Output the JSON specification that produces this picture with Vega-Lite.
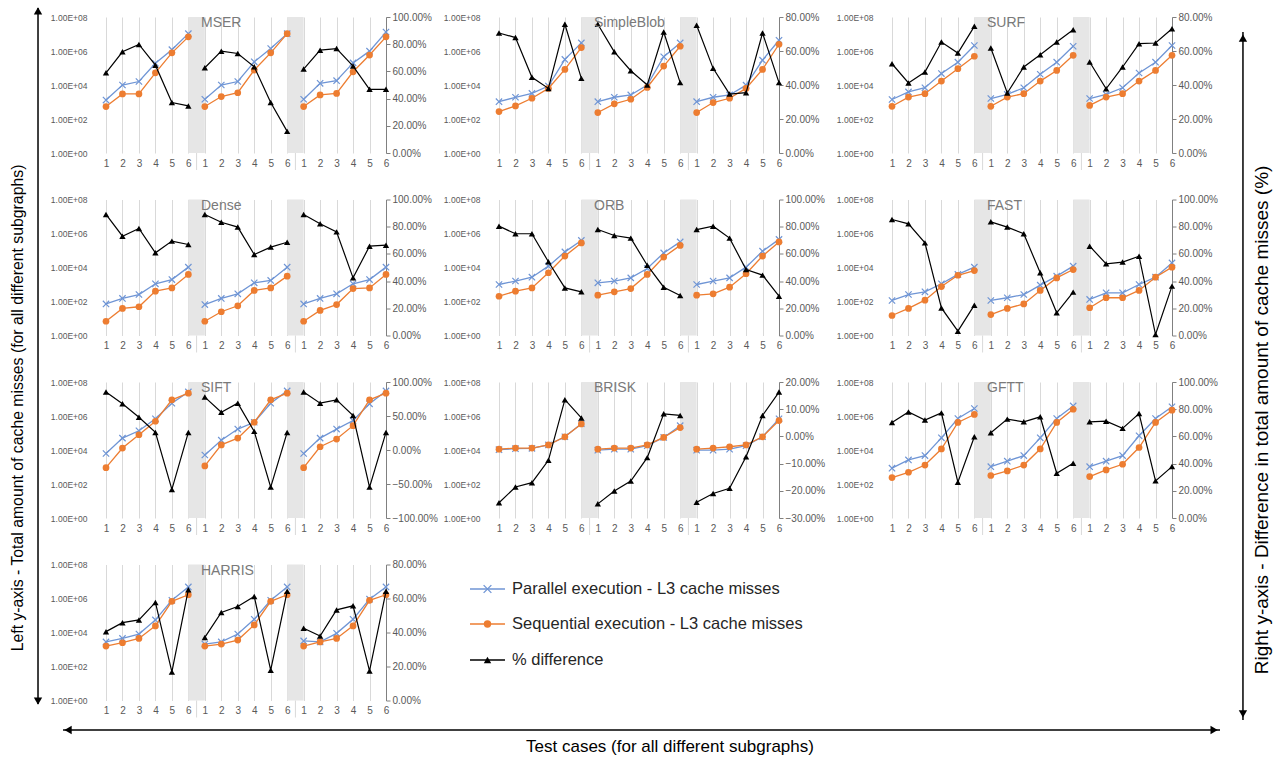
{
"$schema":"https://vega.github.io/schema/vega-lite/v6.json",
"background":"white",
"padding":0,
"config":{"view":{"stroke":null},"font":"Liberation Sans",
 "title":{"anchor":"start","frame":"group","dx":95,"dy":22,"fontSize":14,"font":"Liberation Sans","fontWeight":"normal","color":"#7a7a7a","offset":0},
 "axisBottom":{"grid":true,"gridColor":"#d9d9d9","domain":false,"ticks":false,"labelPadding":5,"labelFontSize":10,"labelColor":"#595959","labelFlush":false,"labelOverlap":false},
 "axisLeft":{"grid":true,"gridColor":"#d9d9d9","domain":false,"ticks":false,"labelPadding":19,"labelFontSize":8.5,"labelColor":"#595959","labelFlush":false,"labelOverlap":false},
 "axisRight":{"grid":false,"domain":true,"domainColor":"#808080","ticks":true,"tickColor":"#808080","tickSize":4,"labelPadding":2,"labelFontSize":10,"labelColor":"#595959","labelFlush":false,"labelOverlap":false}
},
"datasets":{
"MSER":[{"x":1,"g":1,"p":1300,"s":540,"d":0.59},{"x":2,"g":1,"p":10000,"s":3000,"d":0.744},{"x":3,"g":1,"p":16000,"s":3000,"d":0.798},{"x":4,"g":1,"p":190000,"s":52000,"d":0.646},{"x":5,"g":1,"p":1200000,"s":780000,"d":0.371},{"x":6,"g":1,"p":10500000,"s":6800000,"d":0.346},{"x":7,"g":2,"p":1450,"s":540,"d":0.627},{"x":8,"g":2,"p":10000,"s":2100,"d":0.749},{"x":9,"g":2,"p":16000,"s":3500,"d":0.732},{"x":10,"g":2,"p":230000,"s":76000,"d":0.634},{"x":11,"g":2,"p":1400000,"s":780000,"d":0.371},{"x":12,"g":2,"p":10500000,"s":10500000,"d":0.159},{"x":13,"g":3,"p":1450,"s":540,"d":0.617},{"x":14,"g":3,"p":12600,"s":2600,"d":0.756},{"x":15,"g":3,"p":18000,"s":3200,"d":0.768},{"x":16,"g":3,"p":200000,"s":60000,"d":0.639},{"x":17,"g":3,"p":980000,"s":580000,"d":0.468},{"x":18,"g":3,"p":13000000,"s":6800000,"d":0.468}],
"SimpleBlob":[{"x":1,"g":1,"p":1050,"s":275,"d":0.706},{"x":2,"g":1,"p":1900,"s":590,"d":0.679},{"x":3,"g":1,"p":3200,"s":1660,"d":0.445},{"x":4,"g":1,"p":8700,"s":6300,"d":0.38},{"x":5,"g":1,"p":320000,"s":83000,"d":0.757},{"x":6,"g":1,"p":3000000,"s":1600000,"d":0.439},{"x":7,"g":2,"p":1050,"s":240,"d":0.757},{"x":8,"g":2,"p":1900,"s":780,"d":0.595},{"x":9,"g":2,"p":2600,"s":1450,"d":0.484},{"x":10,"g":2,"p":9800,"s":7200,"d":0.4},{"x":11,"g":2,"p":460000,"s":130000,"d":0.712},{"x":12,"g":2,"p":3000000,"s":1900000,"d":0.414},{"x":13,"g":3,"p":1050,"s":240,"d":0.751},{"x":14,"g":3,"p":1900,"s":930,"d":0.498},{"x":15,"g":3,"p":2600,"s":1660,"d":0.347},{"x":16,"g":3,"p":9800,"s":6300,"d":0.355},{"x":17,"g":3,"p":290000,"s":83000,"d":0.706},{"x":18,"g":3,"p":4300000,"s":2500000,"d":0.414}],
"SURF":[{"x":1,"g":1,"p":1400,"s":560,"d":0.525},{"x":2,"g":1,"p":3900,"s":1950,"d":0.412},{"x":3,"g":1,"p":6900,"s":3100,"d":0.476},{"x":4,"g":1,"p":47000,"s":17000,"d":0.653},{"x":5,"g":1,"p":220000,"s":91000,"d":0.588},{"x":6,"g":1,"p":2100000,"s":490000,"d":0.745},{"x":7,"g":2,"p":1600,"s":560,"d":0.618},{"x":8,"g":2,"p":2800,"s":1950,"d":0.353},{"x":9,"g":2,"p":6900,"s":3100,"d":0.506},{"x":10,"g":2,"p":43000,"s":17000,"d":0.578},{"x":11,"g":2,"p":220000,"s":72000,"d":0.653},{"x":12,"g":2,"p":1900000,"s":560000,"d":0.725},{"x":13,"g":3,"p":1600,"s":630,"d":0.535},{"x":14,"g":3,"p":2800,"s":1950,"d":0.378},{"x":15,"g":3,"p":6900,"s":3100,"d":0.506},{"x":16,"g":3,"p":51000,"s":17000,"d":0.643},{"x":17,"g":3,"p":220000,"s":72000,"d":0.647},{"x":18,"g":3,"p":2100000,"s":560000,"d":0.731}],
"Dense":[{"x":1,"g":1,"p":72,"s":6.9,"d":0.89},{"x":2,"g":1,"p":151,"s":39,"d":0.73},{"x":3,"g":1,"p":257,"s":49,"d":0.787},{"x":4,"g":1,"p":1100,"s":407,"d":0.608},{"x":5,"g":1,"p":1950,"s":631,"d":0.694},{"x":6,"g":1,"p":10500,"s":3900,"d":0.669},{"x":7,"g":2,"p":66,"s":6.9,"d":0.89},{"x":8,"g":2,"p":151,"s":25,"d":0.833},{"x":9,"g":2,"p":282,"s":56,"d":0.797},{"x":10,"g":2,"p":1260,"s":447,"d":0.596},{"x":11,"g":2,"p":1740,"s":631,"d":0.65},{"x":12,"g":2,"p":10500,"s":3100,"d":0.686},{"x":13,"g":3,"p":72,"s":6.9,"d":0.89},{"x":14,"g":3,"p":151,"s":30,"d":0.821},{"x":15,"g":3,"p":282,"s":66,"d":0.762},{"x":16,"g":3,"p":1100,"s":575,"d":0.424},{"x":17,"g":3,"p":1950,"s":631,"d":0.657},{"x":18,"g":3,"p":10500,"s":3900,"d":0.664}],
"ORB":[{"x":1,"g":1,"p":1000,"s":204,"d":0.804},{"x":2,"g":1,"p":1600,"s":407,"d":0.748},{"x":3,"g":1,"p":2700,"s":631,"d":0.748},{"x":4,"g":1,"p":12000,"s":4900,"d":0.542},{"x":5,"g":1,"p":83000,"s":47000,"d":0.35},{"x":6,"g":1,"p":390000,"s":280000,"d":0.321},{"x":7,"g":2,"p":1260,"s":234,"d":0.779},{"x":8,"g":2,"p":1600,"s":372,"d":0.735},{"x":9,"g":2,"p":2450,"s":575,"d":0.716},{"x":10,"g":2,"p":8700,"s":3900,"d":0.517},{"x":11,"g":2,"p":72000,"s":41000,"d":0.355},{"x":12,"g":2,"p":320000,"s":200000,"d":0.294},{"x":13,"g":3,"p":1000,"s":234,"d":0.779},{"x":14,"g":3,"p":1600,"s":282,"d":0.804},{"x":15,"g":3,"p":2450,"s":692,"d":0.716},{"x":16,"g":3,"p":10500,"s":4300,"d":0.485},{"x":17,"g":3,"p":91000,"s":47000,"d":0.444},{"x":18,"g":3,"p":450000,"s":320000,"d":0.289}],
"FAST":[{"x":1,"g":1,"p":115,"s":15,"d":0.853},{"x":2,"g":1,"p":257,"s":39,"d":0.821},{"x":3,"g":1,"p":372,"s":120,"d":0.681},{"x":4,"g":1,"p":1100,"s":759,"d":0.203},{"x":5,"g":1,"p":3900,"s":3500,"d":0.032},{"x":6,"g":1,"p":10500,"s":6600,"d":0.223},{"x":7,"g":2,"p":115,"s":17,"d":0.836},{"x":8,"g":2,"p":166,"s":39,"d":0.797},{"x":9,"g":2,"p":257,"s":72,"d":0.748},{"x":10,"g":2,"p":912,"s":447,"d":0.461},{"x":11,"g":2,"p":3100,"s":2450,"d":0.167},{"x":12,"g":2,"p":12000,"s":7600,"d":0.319},{"x":13,"g":3,"p":132,"s":43,"d":0.657},{"x":14,"g":3,"p":324,"s":166,"d":0.527},{"x":15,"g":3,"p":324,"s":166,"d":0.54},{"x":16,"g":3,"p":1000,"s":447,"d":0.583},{"x":17,"g":3,"p":2700,"s":2700,"d":0.007},{"x":18,"g":3,"p":18600,"s":10500,"d":0.363}],
"SIFT":[{"x":1,"g":1,"p":6200,"s":912,"d":0.852},{"x":2,"g":1,"p":50000,"s":13000,"d":0.679},{"x":3,"g":1,"p":135000,"s":79000,"d":0.481},{"x":4,"g":1,"p":680000,"s":490000,"d":0.259},{"x":5,"g":1,"p":5600000,"s":8900000,"d":-0.58},{"x":6,"g":1,"p":26000000,"s":22000000,"d":0.259},{"x":7,"g":2,"p":5100,"s":1150,"d":0.778},{"x":8,"g":2,"p":38000,"s":20000,"d":0.556},{"x":9,"g":2,"p":170000,"s":50000,"d":0.689},{"x":10,"g":2,"p":430000,"s":430000,"d":0.274},{"x":11,"g":2,"p":5600000,"s":8900000,"d":-0.546},{"x":12,"g":2,"p":30000000,"s":22000000,"d":0.259},{"x":13,"g":3,"p":6200,"s":912,"d":0.852},{"x":14,"g":3,"p":50000,"s":15500,"d":0.689},{"x":15,"g":3,"p":170000,"s":44000,"d":0.738},{"x":16,"g":3,"p":540000,"s":270000,"d":0.506},{"x":17,"g":3,"p":5200000,"s":8900000,"d":-0.546},{"x":18,"g":3,"p":30000000,"s":22000000,"d":0.259}],
"BRISK":[{"x":1,"g":1,"p":10500,"s":11200,"d":-0.244},{"x":2,"g":1,"p":12000,"s":13000,"d":-0.186},{"x":3,"g":1,"p":12600,"s":13000,"d":-0.17},{"x":4,"g":1,"p":20000,"s":20000,"d":-0.088},{"x":5,"g":1,"p":60000,"s":60000,"d":0.135},{"x":6,"g":1,"p":350000,"s":340000,"d":0.068},{"x":7,"g":2,"p":9800,"s":11200,"d":-0.248},{"x":8,"g":2,"p":11200,"s":13000,"d":-0.201},{"x":9,"g":2,"p":11200,"s":13000,"d":-0.164},{"x":10,"g":2,"p":18000,"s":20000,"d":-0.078},{"x":11,"g":2,"p":55000,"s":55000,"d":0.083},{"x":12,"g":2,"p":270000,"s":210000,"d":0.077},{"x":13,"g":3,"p":9800,"s":11200,"d":-0.242},{"x":14,"g":3,"p":9800,"s":13000,"d":-0.21},{"x":15,"g":3,"p":11200,"s":15500,"d":-0.191},{"x":16,"g":3,"p":18000,"s":20000,"d":-0.075},{"x":17,"g":3,"p":60000,"s":60000,"d":0.077},{"x":18,"g":3,"p":680000,"s":540000,"d":0.163}],
"GFTT":[{"x":1,"g":1,"p":851,"s":240,"d":0.702},{"x":2,"g":1,"p":2600,"s":490,"d":0.78},{"x":3,"g":1,"p":4700,"s":1300,"d":0.72},{"x":4,"g":1,"p":52000,"s":11500,"d":0.773},{"x":5,"g":1,"p":710000,"s":420000,"d":0.263},{"x":6,"g":1,"p":2750000,"s":1230000,"d":0.598},{"x":7,"g":2,"p":1050,"s":316,"d":0.627},{"x":8,"g":2,"p":2200,"s":589,"d":0.727},{"x":9,"g":2,"p":4700,"s":1300,"d":0.707},{"x":10,"g":2,"p":52000,"s":11500,"d":0.744},{"x":11,"g":2,"p":710000,"s":420000,"d":0.329},{"x":12,"g":2,"p":3900000,"s":2500000,"d":0.402},{"x":13,"g":3,"p":1050,"s":275,"d":0.707},{"x":14,"g":3,"p":2200,"s":676,"d":0.712},{"x":15,"g":3,"p":4700,"s":1450,"d":0.659},{"x":16,"g":3,"p":69000,"s":14000,"d":0.768},{"x":17,"g":3,"p":710000,"s":420000,"d":0.273},{"x":18,"g":3,"p":3500000,"s":2200000,"d":0.378}],
"HARRIS":[{"x":1,"g":1,"p":2800,"s":1600,"d":0.405},{"x":2,"g":1,"p":4500,"s":2500,"d":0.458},{"x":3,"g":1,"p":8100,"s":4500,"d":0.474},{"x":4,"g":1,"p":55000,"s":24500,"d":0.577},{"x":5,"g":1,"p":780000,"s":680000,"d":0.168},{"x":6,"g":1,"p":4800000,"s":1660000,"d":0.652},{"x":7,"g":2,"p":2100,"s":1600,"d":0.371},{"x":8,"g":2,"p":2800,"s":2100,"d":0.518},{"x":9,"g":2,"p":8100,"s":3600,"d":0.553},{"x":10,"g":2,"p":60000,"s":28000,"d":0.612},{"x":11,"g":2,"p":780000,"s":680000,"d":0.178},{"x":12,"g":2,"p":4800000,"s":1660000,"d":0.642},{"x":13,"g":3,"p":3200,"s":1600,"d":0.425},{"x":14,"g":3,"p":2800,"s":2800,"d":0.379},{"x":15,"g":3,"p":8900,"s":4500,"d":0.533},{"x":16,"g":3,"p":60000,"s":24500,"d":0.557},{"x":17,"g":3,"p":910000,"s":780000,"d":0.174},{"x":18,"g":3,"p":4800000,"s":1660000,"d":0.642}]
},
"columns":3,
"spacing":{"row":46.5,"column":113},
"bounds":"flush",
"concat":[
{"width":280,"height":136,"title":"MSER","layer":[
 {"data":{"values":[{"a":6,"b":7},{"a":12,"b":13}]},"mark":{"type":"rect","color":"#e6e6e6"},"encoding":{"x":{"field":"a","type":"quantitative","scale":{"domain":[1,18],"nice":false,"zero":false},"axis":{"values":[1,2,3,4,5,6,7,8,9,10,11,12,13,14,15,16,17,18],"labelExpr":"''+((datum.value-1)%6+1)","title":null}},"x2":{"field":"b"},"y":{"datum":0,"type":"quantitative","scale":{"domain":[0,1]},"axis":null},"y2":{"datum":1}}},
 {"data":{"name":"MSER"},"encoding":{"x":{"field":"x","type":"quantitative","scale":{"domain":[1,18],"nice":false,"zero":false},"axis":{"values":[1,2,3,4,5,6,7,8,9,10,11,12,13,14,15,16,17,18],"labelExpr":"''+((datum.value-1)%6+1)","title":null}}},"layer":[
  {"mark":{"type":"line","color":"#6f95d5","strokeWidth":1.3},"encoding":{"y":{"field":"p","type":"quantitative","scale":{"type":"log","domain":[1,100000000],"nice":false},"axis":{"values":[1,100,10000,1000000,100000000],"labelExpr":"'1.00E+0'+round(log(datum.value)/LN10)","title":null}},"detail":{"field":"g"}}},
  {"mark":{"type":"point","shape":"M-1,-1L1,1M-1,1L1,-1","filled":false,"color":"#6f95d5","size":40,"strokeWidth":1.2,"opacity":1},"encoding":{"y":{"field":"p","type":"quantitative","scale":{"type":"log","domain":[1,100000000],"nice":false},"axis":{"values":[1,100,10000,1000000,100000000],"labelExpr":"'1.00E+0'+round(log(datum.value)/LN10)","title":null}}}},
  {"mark":{"type":"line","color":"#ed7d31","strokeWidth":1.3},"encoding":{"y":{"field":"s","type":"quantitative","scale":{"type":"log","domain":[1,100000000],"nice":false},"axis":{"values":[1,100,10000,1000000,100000000],"labelExpr":"'1.00E+0'+round(log(datum.value)/LN10)","title":null}},"detail":{"field":"g"}}},
  {"mark":{"type":"point","shape":"circle","filled":true,"color":"#ed7d31","size":45,"opacity":1},"encoding":{"y":{"field":"s","type":"quantitative","scale":{"type":"log","domain":[1,100000000],"nice":false},"axis":{"values":[1,100,10000,1000000,100000000],"labelExpr":"'1.00E+0'+round(log(datum.value)/LN10)","title":null}}}},
  {"data":{"values":[{"v":6.5},{"v":12.5}]},"mark":{"type":"rule","color":"#d9d9d9"},"encoding":{"x":{"field":"v","type":"quantitative","scale":{"domain":[1,18],"nice":false,"zero":false},"axis":{"values":[1,2,3,4,5,6,7,8,9,10,11,12,13,14,15,16,17,18],"labelExpr":"''+((datum.value-1)%6+1)","title":null}},"y":{"datum":1,"type":"quantitative","scale":{"type":"log","domain":[1,100000000],"nice":false},"axis":{"values":[1,100,10000,1000000,100000000],"labelExpr":"'1.00E+0'+round(log(datum.value)/LN10)","title":null}},"y2":{"datum":0.1}}}
 ]},
 {"data":{"name":"MSER"},"encoding":{"x":{"field":"x","type":"quantitative","scale":{"domain":[1,18],"nice":false,"zero":false},"axis":{"values":[1,2,3,4,5,6,7,8,9,10,11,12,13,14,15,16,17,18],"labelExpr":"''+((datum.value-1)%6+1)","title":null}},"y":{"field":"d","type":"quantitative","scale":{"domain":[0,1],"nice":false,"zero":false},"axis":{"orient":"right","values":[0,0.2,0.4,0.6,0.8,1],"format":".2%","title":null}}},"layer":[
  {"mark":{"type":"line","color":"#000000","strokeWidth":1.2},"encoding":{"detail":{"field":"g"}}},
  {"mark":{"type":"point","shape":"triangle-up","filled":true,"color":"#000000","size":40,"opacity":1}}
 ]}
],"resolve":{"scale":{"y":"independent"}}},

{"width":280,"height":136,"title":"SimpleBlob","layer":[
 {"data":{"values":[{"a":6,"b":7},{"a":12,"b":13}]},"mark":{"type":"rect","color":"#e6e6e6"},"encoding":{"x":{"field":"a","type":"quantitative","scale":{"domain":[1,18],"nice":false,"zero":false},"axis":{"values":[1,2,3,4,5,6,7,8,9,10,11,12,13,14,15,16,17,18],"labelExpr":"''+((datum.value-1)%6+1)","title":null}},"x2":{"field":"b"},"y":{"datum":0,"type":"quantitative","scale":{"domain":[0,1]},"axis":null},"y2":{"datum":1}}},
 {"data":{"name":"SimpleBlob"},"encoding":{"x":{"field":"x","type":"quantitative","scale":{"domain":[1,18],"nice":false,"zero":false},"axis":{"values":[1,2,3,4,5,6,7,8,9,10,11,12,13,14,15,16,17,18],"labelExpr":"''+((datum.value-1)%6+1)","title":null}}},"layer":[
  {"mark":{"type":"line","color":"#6f95d5","strokeWidth":1.3},"encoding":{"y":{"field":"p","type":"quantitative","scale":{"type":"log","domain":[1,100000000],"nice":false},"axis":{"values":[1,100,10000,1000000,100000000],"labelExpr":"'1.00E+0'+round(log(datum.value)/LN10)","title":null}},"detail":{"field":"g"}}},
  {"mark":{"type":"point","shape":"M-1,-1L1,1M-1,1L1,-1","filled":false,"color":"#6f95d5","size":40,"strokeWidth":1.2,"opacity":1},"encoding":{"y":{"field":"p","type":"quantitative","scale":{"type":"log","domain":[1,100000000],"nice":false},"axis":{"values":[1,100,10000,1000000,100000000],"labelExpr":"'1.00E+0'+round(log(datum.value)/LN10)","title":null}}}},
  {"mark":{"type":"line","color":"#ed7d31","strokeWidth":1.3},"encoding":{"y":{"field":"s","type":"quantitative","scale":{"type":"log","domain":[1,100000000],"nice":false},"axis":{"values":[1,100,10000,1000000,100000000],"labelExpr":"'1.00E+0'+round(log(datum.value)/LN10)","title":null}},"detail":{"field":"g"}}},
  {"mark":{"type":"point","shape":"circle","filled":true,"color":"#ed7d31","size":45,"opacity":1},"encoding":{"y":{"field":"s","type":"quantitative","scale":{"type":"log","domain":[1,100000000],"nice":false},"axis":{"values":[1,100,10000,1000000,100000000],"labelExpr":"'1.00E+0'+round(log(datum.value)/LN10)","title":null}}}},
  {"data":{"values":[{"v":6.5},{"v":12.5}]},"mark":{"type":"rule","color":"#d9d9d9"},"encoding":{"x":{"field":"v","type":"quantitative","scale":{"domain":[1,18],"nice":false,"zero":false},"axis":{"values":[1,2,3,4,5,6,7,8,9,10,11,12,13,14,15,16,17,18],"labelExpr":"''+((datum.value-1)%6+1)","title":null}},"y":{"datum":1,"type":"quantitative","scale":{"type":"log","domain":[1,100000000],"nice":false},"axis":{"values":[1,100,10000,1000000,100000000],"labelExpr":"'1.00E+0'+round(log(datum.value)/LN10)","title":null}},"y2":{"datum":0.1}}}
 ]},
 {"data":{"name":"SimpleBlob"},"encoding":{"x":{"field":"x","type":"quantitative","scale":{"domain":[1,18],"nice":false,"zero":false},"axis":{"values":[1,2,3,4,5,6,7,8,9,10,11,12,13,14,15,16,17,18],"labelExpr":"''+((datum.value-1)%6+1)","title":null}},"y":{"field":"d","type":"quantitative","scale":{"domain":[0,0.8],"nice":false,"zero":false},"axis":{"orient":"right","values":[0,0.2,0.4,0.6,0.8],"format":".2%","title":null}}},"layer":[
  {"mark":{"type":"line","color":"#000000","strokeWidth":1.2},"encoding":{"detail":{"field":"g"}}},
  {"mark":{"type":"point","shape":"triangle-up","filled":true,"color":"#000000","size":40,"opacity":1}}
 ]}
],"resolve":{"scale":{"y":"independent"}}},

{"width":280,"height":136,"title":"SURF","layer":[
 {"data":{"values":[{"a":6,"b":7},{"a":12,"b":13}]},"mark":{"type":"rect","color":"#e6e6e6"},"encoding":{"x":{"field":"a","type":"quantitative","scale":{"domain":[1,18],"nice":false,"zero":false},"axis":{"values":[1,2,3,4,5,6,7,8,9,10,11,12,13,14,15,16,17,18],"labelExpr":"''+((datum.value-1)%6+1)","title":null}},"x2":{"field":"b"},"y":{"datum":0,"type":"quantitative","scale":{"domain":[0,1]},"axis":null},"y2":{"datum":1}}},
 {"data":{"name":"SURF"},"encoding":{"x":{"field":"x","type":"quantitative","scale":{"domain":[1,18],"nice":false,"zero":false},"axis":{"values":[1,2,3,4,5,6,7,8,9,10,11,12,13,14,15,16,17,18],"labelExpr":"''+((datum.value-1)%6+1)","title":null}}},"layer":[
  {"mark":{"type":"line","color":"#6f95d5","strokeWidth":1.3},"encoding":{"y":{"field":"p","type":"quantitative","scale":{"type":"log","domain":[1,100000000],"nice":false},"axis":{"values":[1,100,10000,1000000,100000000],"labelExpr":"'1.00E+0'+round(log(datum.value)/LN10)","title":null}},"detail":{"field":"g"}}},
  {"mark":{"type":"point","shape":"M-1,-1L1,1M-1,1L1,-1","filled":false,"color":"#6f95d5","size":40,"strokeWidth":1.2,"opacity":1},"encoding":{"y":{"field":"p","type":"quantitative","scale":{"type":"log","domain":[1,100000000],"nice":false},"axis":{"values":[1,100,10000,1000000,100000000],"labelExpr":"'1.00E+0'+round(log(datum.value)/LN10)","title":null}}}},
  {"mark":{"type":"line","color":"#ed7d31","strokeWidth":1.3},"encoding":{"y":{"field":"s","type":"quantitative","scale":{"type":"log","domain":[1,100000000],"nice":false},"axis":{"values":[1,100,10000,1000000,100000000],"labelExpr":"'1.00E+0'+round(log(datum.value)/LN10)","title":null}},"detail":{"field":"g"}}},
  {"mark":{"type":"point","shape":"circle","filled":true,"color":"#ed7d31","size":45,"opacity":1},"encoding":{"y":{"field":"s","type":"quantitative","scale":{"type":"log","domain":[1,100000000],"nice":false},"axis":{"values":[1,100,10000,1000000,100000000],"labelExpr":"'1.00E+0'+round(log(datum.value)/LN10)","title":null}}}},
  {"data":{"values":[{"v":6.5},{"v":12.5}]},"mark":{"type":"rule","color":"#d9d9d9"},"encoding":{"x":{"field":"v","type":"quantitative","scale":{"domain":[1,18],"nice":false,"zero":false},"axis":{"values":[1,2,3,4,5,6,7,8,9,10,11,12,13,14,15,16,17,18],"labelExpr":"''+((datum.value-1)%6+1)","title":null}},"y":{"datum":1,"type":"quantitative","scale":{"type":"log","domain":[1,100000000],"nice":false},"axis":{"values":[1,100,10000,1000000,100000000],"labelExpr":"'1.00E+0'+round(log(datum.value)/LN10)","title":null}},"y2":{"datum":0.1}}}
 ]},
 {"data":{"name":"SURF"},"encoding":{"x":{"field":"x","type":"quantitative","scale":{"domain":[1,18],"nice":false,"zero":false},"axis":{"values":[1,2,3,4,5,6,7,8,9,10,11,12,13,14,15,16,17,18],"labelExpr":"''+((datum.value-1)%6+1)","title":null}},"y":{"field":"d","type":"quantitative","scale":{"domain":[0,0.8],"nice":false,"zero":false},"axis":{"orient":"right","values":[0,0.2,0.4,0.6,0.8],"format":".2%","title":null}}},"layer":[
  {"mark":{"type":"line","color":"#000000","strokeWidth":1.2},"encoding":{"detail":{"field":"g"}}},
  {"mark":{"type":"point","shape":"triangle-up","filled":true,"color":"#000000","size":40,"opacity":1}}
 ]}
],"resolve":{"scale":{"y":"independent"}}},

{"width":280,"height":136,"title":"Dense","layer":[
 {"data":{"values":[{"a":6,"b":7},{"a":12,"b":13}]},"mark":{"type":"rect","color":"#e6e6e6"},"encoding":{"x":{"field":"a","type":"quantitative","scale":{"domain":[1,18],"nice":false,"zero":false},"axis":{"values":[1,2,3,4,5,6,7,8,9,10,11,12,13,14,15,16,17,18],"labelExpr":"''+((datum.value-1)%6+1)","title":null}},"x2":{"field":"b"},"y":{"datum":0,"type":"quantitative","scale":{"domain":[0,1]},"axis":null},"y2":{"datum":1}}},
 {"data":{"name":"Dense"},"encoding":{"x":{"field":"x","type":"quantitative","scale":{"domain":[1,18],"nice":false,"zero":false},"axis":{"values":[1,2,3,4,5,6,7,8,9,10,11,12,13,14,15,16,17,18],"labelExpr":"''+((datum.value-1)%6+1)","title":null}}},"layer":[
  {"mark":{"type":"line","color":"#6f95d5","strokeWidth":1.3},"encoding":{"y":{"field":"p","type":"quantitative","scale":{"type":"log","domain":[1,100000000],"nice":false},"axis":{"values":[1,100,10000,1000000,100000000],"labelExpr":"'1.00E+0'+round(log(datum.value)/LN10)","title":null}},"detail":{"field":"g"}}},
  {"mark":{"type":"point","shape":"M-1,-1L1,1M-1,1L1,-1","filled":false,"color":"#6f95d5","size":40,"strokeWidth":1.2,"opacity":1},"encoding":{"y":{"field":"p","type":"quantitative","scale":{"type":"log","domain":[1,100000000],"nice":false},"axis":{"values":[1,100,10000,1000000,100000000],"labelExpr":"'1.00E+0'+round(log(datum.value)/LN10)","title":null}}}},
  {"mark":{"type":"line","color":"#ed7d31","strokeWidth":1.3},"encoding":{"y":{"field":"s","type":"quantitative","scale":{"type":"log","domain":[1,100000000],"nice":false},"axis":{"values":[1,100,10000,1000000,100000000],"labelExpr":"'1.00E+0'+round(log(datum.value)/LN10)","title":null}},"detail":{"field":"g"}}},
  {"mark":{"type":"point","shape":"circle","filled":true,"color":"#ed7d31","size":45,"opacity":1},"encoding":{"y":{"field":"s","type":"quantitative","scale":{"type":"log","domain":[1,100000000],"nice":false},"axis":{"values":[1,100,10000,1000000,100000000],"labelExpr":"'1.00E+0'+round(log(datum.value)/LN10)","title":null}}}},
  {"data":{"values":[{"v":6.5},{"v":12.5}]},"mark":{"type":"rule","color":"#d9d9d9"},"encoding":{"x":{"field":"v","type":"quantitative","scale":{"domain":[1,18],"nice":false,"zero":false},"axis":{"values":[1,2,3,4,5,6,7,8,9,10,11,12,13,14,15,16,17,18],"labelExpr":"''+((datum.value-1)%6+1)","title":null}},"y":{"datum":1,"type":"quantitative","scale":{"type":"log","domain":[1,100000000],"nice":false},"axis":{"values":[1,100,10000,1000000,100000000],"labelExpr":"'1.00E+0'+round(log(datum.value)/LN10)","title":null}},"y2":{"datum":0.1}}}
 ]},
 {"data":{"name":"Dense"},"encoding":{"x":{"field":"x","type":"quantitative","scale":{"domain":[1,18],"nice":false,"zero":false},"axis":{"values":[1,2,3,4,5,6,7,8,9,10,11,12,13,14,15,16,17,18],"labelExpr":"''+((datum.value-1)%6+1)","title":null}},"y":{"field":"d","type":"quantitative","scale":{"domain":[0,1],"nice":false,"zero":false},"axis":{"orient":"right","values":[0,0.2,0.4,0.6,0.8,1],"format":".2%","title":null}}},"layer":[
  {"mark":{"type":"line","color":"#000000","strokeWidth":1.2},"encoding":{"detail":{"field":"g"}}},
  {"mark":{"type":"point","shape":"triangle-up","filled":true,"color":"#000000","size":40,"opacity":1}}
 ]}
],"resolve":{"scale":{"y":"independent"}}},

{"width":280,"height":136,"title":"ORB","layer":[
 {"data":{"values":[{"a":6,"b":7},{"a":12,"b":13}]},"mark":{"type":"rect","color":"#e6e6e6"},"encoding":{"x":{"field":"a","type":"quantitative","scale":{"domain":[1,18],"nice":false,"zero":false},"axis":{"values":[1,2,3,4,5,6,7,8,9,10,11,12,13,14,15,16,17,18],"labelExpr":"''+((datum.value-1)%6+1)","title":null}},"x2":{"field":"b"},"y":{"datum":0,"type":"quantitative","scale":{"domain":[0,1]},"axis":null},"y2":{"datum":1}}},
 {"data":{"name":"ORB"},"encoding":{"x":{"field":"x","type":"quantitative","scale":{"domain":[1,18],"nice":false,"zero":false},"axis":{"values":[1,2,3,4,5,6,7,8,9,10,11,12,13,14,15,16,17,18],"labelExpr":"''+((datum.value-1)%6+1)","title":null}}},"layer":[
  {"mark":{"type":"line","color":"#6f95d5","strokeWidth":1.3},"encoding":{"y":{"field":"p","type":"quantitative","scale":{"type":"log","domain":[1,100000000],"nice":false},"axis":{"values":[1,100,10000,1000000,100000000],"labelExpr":"'1.00E+0'+round(log(datum.value)/LN10)","title":null}},"detail":{"field":"g"}}},
  {"mark":{"type":"point","shape":"M-1,-1L1,1M-1,1L1,-1","filled":false,"color":"#6f95d5","size":40,"strokeWidth":1.2,"opacity":1},"encoding":{"y":{"field":"p","type":"quantitative","scale":{"type":"log","domain":[1,100000000],"nice":false},"axis":{"values":[1,100,10000,1000000,100000000],"labelExpr":"'1.00E+0'+round(log(datum.value)/LN10)","title":null}}}},
  {"mark":{"type":"line","color":"#ed7d31","strokeWidth":1.3},"encoding":{"y":{"field":"s","type":"quantitative","scale":{"type":"log","domain":[1,100000000],"nice":false},"axis":{"values":[1,100,10000,1000000,100000000],"labelExpr":"'1.00E+0'+round(log(datum.value)/LN10)","title":null}},"detail":{"field":"g"}}},
  {"mark":{"type":"point","shape":"circle","filled":true,"color":"#ed7d31","size":45,"opacity":1},"encoding":{"y":{"field":"s","type":"quantitative","scale":{"type":"log","domain":[1,100000000],"nice":false},"axis":{"values":[1,100,10000,1000000,100000000],"labelExpr":"'1.00E+0'+round(log(datum.value)/LN10)","title":null}}}},
  {"data":{"values":[{"v":6.5},{"v":12.5}]},"mark":{"type":"rule","color":"#d9d9d9"},"encoding":{"x":{"field":"v","type":"quantitative","scale":{"domain":[1,18],"nice":false,"zero":false},"axis":{"values":[1,2,3,4,5,6,7,8,9,10,11,12,13,14,15,16,17,18],"labelExpr":"''+((datum.value-1)%6+1)","title":null}},"y":{"datum":1,"type":"quantitative","scale":{"type":"log","domain":[1,100000000],"nice":false},"axis":{"values":[1,100,10000,1000000,100000000],"labelExpr":"'1.00E+0'+round(log(datum.value)/LN10)","title":null}},"y2":{"datum":0.1}}}
 ]},
 {"data":{"name":"ORB"},"encoding":{"x":{"field":"x","type":"quantitative","scale":{"domain":[1,18],"nice":false,"zero":false},"axis":{"values":[1,2,3,4,5,6,7,8,9,10,11,12,13,14,15,16,17,18],"labelExpr":"''+((datum.value-1)%6+1)","title":null}},"y":{"field":"d","type":"quantitative","scale":{"domain":[0,1],"nice":false,"zero":false},"axis":{"orient":"right","values":[0,0.2,0.4,0.6,0.8,1],"format":".2%","title":null}}},"layer":[
  {"mark":{"type":"line","color":"#000000","strokeWidth":1.2},"encoding":{"detail":{"field":"g"}}},
  {"mark":{"type":"point","shape":"triangle-up","filled":true,"color":"#000000","size":40,"opacity":1}}
 ]}
],"resolve":{"scale":{"y":"independent"}}},

{"width":280,"height":136,"title":"FAST","layer":[
 {"data":{"values":[{"a":6,"b":7},{"a":12,"b":13}]},"mark":{"type":"rect","color":"#e6e6e6"},"encoding":{"x":{"field":"a","type":"quantitative","scale":{"domain":[1,18],"nice":false,"zero":false},"axis":{"values":[1,2,3,4,5,6,7,8,9,10,11,12,13,14,15,16,17,18],"labelExpr":"''+((datum.value-1)%6+1)","title":null}},"x2":{"field":"b"},"y":{"datum":0,"type":"quantitative","scale":{"domain":[0,1]},"axis":null},"y2":{"datum":1}}},
 {"data":{"name":"FAST"},"encoding":{"x":{"field":"x","type":"quantitative","scale":{"domain":[1,18],"nice":false,"zero":false},"axis":{"values":[1,2,3,4,5,6,7,8,9,10,11,12,13,14,15,16,17,18],"labelExpr":"''+((datum.value-1)%6+1)","title":null}}},"layer":[
  {"mark":{"type":"line","color":"#6f95d5","strokeWidth":1.3},"encoding":{"y":{"field":"p","type":"quantitative","scale":{"type":"log","domain":[1,100000000],"nice":false},"axis":{"values":[1,100,10000,1000000,100000000],"labelExpr":"'1.00E+0'+round(log(datum.value)/LN10)","title":null}},"detail":{"field":"g"}}},
  {"mark":{"type":"point","shape":"M-1,-1L1,1M-1,1L1,-1","filled":false,"color":"#6f95d5","size":40,"strokeWidth":1.2,"opacity":1},"encoding":{"y":{"field":"p","type":"quantitative","scale":{"type":"log","domain":[1,100000000],"nice":false},"axis":{"values":[1,100,10000,1000000,100000000],"labelExpr":"'1.00E+0'+round(log(datum.value)/LN10)","title":null}}}},
  {"mark":{"type":"line","color":"#ed7d31","strokeWidth":1.3},"encoding":{"y":{"field":"s","type":"quantitative","scale":{"type":"log","domain":[1,100000000],"nice":false},"axis":{"values":[1,100,10000,1000000,100000000],"labelExpr":"'1.00E+0'+round(log(datum.value)/LN10)","title":null}},"detail":{"field":"g"}}},
  {"mark":{"type":"point","shape":"circle","filled":true,"color":"#ed7d31","size":45,"opacity":1},"encoding":{"y":{"field":"s","type":"quantitative","scale":{"type":"log","domain":[1,100000000],"nice":false},"axis":{"values":[1,100,10000,1000000,100000000],"labelExpr":"'1.00E+0'+round(log(datum.value)/LN10)","title":null}}}},
  {"data":{"values":[{"v":6.5},{"v":12.5}]},"mark":{"type":"rule","color":"#d9d9d9"},"encoding":{"x":{"field":"v","type":"quantitative","scale":{"domain":[1,18],"nice":false,"zero":false},"axis":{"values":[1,2,3,4,5,6,7,8,9,10,11,12,13,14,15,16,17,18],"labelExpr":"''+((datum.value-1)%6+1)","title":null}},"y":{"datum":1,"type":"quantitative","scale":{"type":"log","domain":[1,100000000],"nice":false},"axis":{"values":[1,100,10000,1000000,100000000],"labelExpr":"'1.00E+0'+round(log(datum.value)/LN10)","title":null}},"y2":{"datum":0.1}}}
 ]},
 {"data":{"name":"FAST"},"encoding":{"x":{"field":"x","type":"quantitative","scale":{"domain":[1,18],"nice":false,"zero":false},"axis":{"values":[1,2,3,4,5,6,7,8,9,10,11,12,13,14,15,16,17,18],"labelExpr":"''+((datum.value-1)%6+1)","title":null}},"y":{"field":"d","type":"quantitative","scale":{"domain":[0,1],"nice":false,"zero":false},"axis":{"orient":"right","values":[0,0.2,0.4,0.6,0.8,1],"format":".2%","title":null}}},"layer":[
  {"mark":{"type":"line","color":"#000000","strokeWidth":1.2},"encoding":{"detail":{"field":"g"}}},
  {"mark":{"type":"point","shape":"triangle-up","filled":true,"color":"#000000","size":40,"opacity":1}}
 ]}
],"resolve":{"scale":{"y":"independent"}}},

{"width":280,"height":136,"title":"SIFT","layer":[
 {"data":{"values":[{"a":6,"b":7},{"a":12,"b":13}]},"mark":{"type":"rect","color":"#e6e6e6"},"encoding":{"x":{"field":"a","type":"quantitative","scale":{"domain":[1,18],"nice":false,"zero":false},"axis":{"values":[1,2,3,4,5,6,7,8,9,10,11,12,13,14,15,16,17,18],"labelExpr":"''+((datum.value-1)%6+1)","title":null}},"x2":{"field":"b"},"y":{"datum":0,"type":"quantitative","scale":{"domain":[0,1]},"axis":null},"y2":{"datum":1}}},
 {"data":{"name":"SIFT"},"encoding":{"x":{"field":"x","type":"quantitative","scale":{"domain":[1,18],"nice":false,"zero":false},"axis":{"values":[1,2,3,4,5,6,7,8,9,10,11,12,13,14,15,16,17,18],"labelExpr":"''+((datum.value-1)%6+1)","title":null}}},"layer":[
  {"mark":{"type":"line","color":"#6f95d5","strokeWidth":1.3},"encoding":{"y":{"field":"p","type":"quantitative","scale":{"type":"log","domain":[1,100000000],"nice":false},"axis":{"values":[1,100,10000,1000000,100000000],"labelExpr":"'1.00E+0'+round(log(datum.value)/LN10)","title":null}},"detail":{"field":"g"}}},
  {"mark":{"type":"point","shape":"M-1,-1L1,1M-1,1L1,-1","filled":false,"color":"#6f95d5","size":40,"strokeWidth":1.2,"opacity":1},"encoding":{"y":{"field":"p","type":"quantitative","scale":{"type":"log","domain":[1,100000000],"nice":false},"axis":{"values":[1,100,10000,1000000,100000000],"labelExpr":"'1.00E+0'+round(log(datum.value)/LN10)","title":null}}}},
  {"mark":{"type":"line","color":"#ed7d31","strokeWidth":1.3},"encoding":{"y":{"field":"s","type":"quantitative","scale":{"type":"log","domain":[1,100000000],"nice":false},"axis":{"values":[1,100,10000,1000000,100000000],"labelExpr":"'1.00E+0'+round(log(datum.value)/LN10)","title":null}},"detail":{"field":"g"}}},
  {"mark":{"type":"point","shape":"circle","filled":true,"color":"#ed7d31","size":45,"opacity":1},"encoding":{"y":{"field":"s","type":"quantitative","scale":{"type":"log","domain":[1,100000000],"nice":false},"axis":{"values":[1,100,10000,1000000,100000000],"labelExpr":"'1.00E+0'+round(log(datum.value)/LN10)","title":null}}}},
  {"data":{"values":[{"v":6.5},{"v":12.5}]},"mark":{"type":"rule","color":"#d9d9d9"},"encoding":{"x":{"field":"v","type":"quantitative","scale":{"domain":[1,18],"nice":false,"zero":false},"axis":{"values":[1,2,3,4,5,6,7,8,9,10,11,12,13,14,15,16,17,18],"labelExpr":"''+((datum.value-1)%6+1)","title":null}},"y":{"datum":1,"type":"quantitative","scale":{"type":"log","domain":[1,100000000],"nice":false},"axis":{"values":[1,100,10000,1000000,100000000],"labelExpr":"'1.00E+0'+round(log(datum.value)/LN10)","title":null}},"y2":{"datum":0.1}}}
 ]},
 {"data":{"name":"SIFT"},"encoding":{"x":{"field":"x","type":"quantitative","scale":{"domain":[1,18],"nice":false,"zero":false},"axis":{"values":[1,2,3,4,5,6,7,8,9,10,11,12,13,14,15,16,17,18],"labelExpr":"''+((datum.value-1)%6+1)","title":null}},"y":{"field":"d","type":"quantitative","scale":{"domain":[-1,1],"nice":false,"zero":false},"axis":{"orient":"right","values":[-1,-0.5,0,0.5,1],"format":".2%","title":null}}},"layer":[
  {"mark":{"type":"line","color":"#000000","strokeWidth":1.2},"encoding":{"detail":{"field":"g"}}},
  {"mark":{"type":"point","shape":"triangle-up","filled":true,"color":"#000000","size":40,"opacity":1}}
 ]}
],"resolve":{"scale":{"y":"independent"}}},

{"width":280,"height":136,"title":"BRISK","layer":[
 {"data":{"values":[{"a":6,"b":7},{"a":12,"b":13}]},"mark":{"type":"rect","color":"#e6e6e6"},"encoding":{"x":{"field":"a","type":"quantitative","scale":{"domain":[1,18],"nice":false,"zero":false},"axis":{"values":[1,2,3,4,5,6,7,8,9,10,11,12,13,14,15,16,17,18],"labelExpr":"''+((datum.value-1)%6+1)","title":null}},"x2":{"field":"b"},"y":{"datum":0,"type":"quantitative","scale":{"domain":[0,1]},"axis":null},"y2":{"datum":1}}},
 {"data":{"name":"BRISK"},"encoding":{"x":{"field":"x","type":"quantitative","scale":{"domain":[1,18],"nice":false,"zero":false},"axis":{"values":[1,2,3,4,5,6,7,8,9,10,11,12,13,14,15,16,17,18],"labelExpr":"''+((datum.value-1)%6+1)","title":null}}},"layer":[
  {"mark":{"type":"line","color":"#6f95d5","strokeWidth":1.3},"encoding":{"y":{"field":"p","type":"quantitative","scale":{"type":"log","domain":[1,100000000],"nice":false},"axis":{"values":[1,100,10000,1000000,100000000],"labelExpr":"'1.00E+0'+round(log(datum.value)/LN10)","title":null}},"detail":{"field":"g"}}},
  {"mark":{"type":"point","shape":"M-1,-1L1,1M-1,1L1,-1","filled":false,"color":"#6f95d5","size":40,"strokeWidth":1.2,"opacity":1},"encoding":{"y":{"field":"p","type":"quantitative","scale":{"type":"log","domain":[1,100000000],"nice":false},"axis":{"values":[1,100,10000,1000000,100000000],"labelExpr":"'1.00E+0'+round(log(datum.value)/LN10)","title":null}}}},
  {"mark":{"type":"line","color":"#ed7d31","strokeWidth":1.3},"encoding":{"y":{"field":"s","type":"quantitative","scale":{"type":"log","domain":[1,100000000],"nice":false},"axis":{"values":[1,100,10000,1000000,100000000],"labelExpr":"'1.00E+0'+round(log(datum.value)/LN10)","title":null}},"detail":{"field":"g"}}},
  {"mark":{"type":"point","shape":"circle","filled":true,"color":"#ed7d31","size":45,"opacity":1},"encoding":{"y":{"field":"s","type":"quantitative","scale":{"type":"log","domain":[1,100000000],"nice":false},"axis":{"values":[1,100,10000,1000000,100000000],"labelExpr":"'1.00E+0'+round(log(datum.value)/LN10)","title":null}}}},
  {"data":{"values":[{"v":6.5},{"v":12.5}]},"mark":{"type":"rule","color":"#d9d9d9"},"encoding":{"x":{"field":"v","type":"quantitative","scale":{"domain":[1,18],"nice":false,"zero":false},"axis":{"values":[1,2,3,4,5,6,7,8,9,10,11,12,13,14,15,16,17,18],"labelExpr":"''+((datum.value-1)%6+1)","title":null}},"y":{"datum":1,"type":"quantitative","scale":{"type":"log","domain":[1,100000000],"nice":false},"axis":{"values":[1,100,10000,1000000,100000000],"labelExpr":"'1.00E+0'+round(log(datum.value)/LN10)","title":null}},"y2":{"datum":0.1}}}
 ]},
 {"data":{"name":"BRISK"},"encoding":{"x":{"field":"x","type":"quantitative","scale":{"domain":[1,18],"nice":false,"zero":false},"axis":{"values":[1,2,3,4,5,6,7,8,9,10,11,12,13,14,15,16,17,18],"labelExpr":"''+((datum.value-1)%6+1)","title":null}},"y":{"field":"d","type":"quantitative","scale":{"domain":[-0.3,0.2],"nice":false,"zero":false},"axis":{"orient":"right","values":[-0.3,-0.2,-0.1,0,0.1,0.2],"format":".2%","title":null}}},"layer":[
  {"mark":{"type":"line","color":"#000000","strokeWidth":1.2},"encoding":{"detail":{"field":"g"}}},
  {"mark":{"type":"point","shape":"triangle-up","filled":true,"color":"#000000","size":40,"opacity":1}}
 ]}
],"resolve":{"scale":{"y":"independent"}}},

{"width":280,"height":136,"title":"GFTT","layer":[
 {"data":{"values":[{"a":6,"b":7},{"a":12,"b":13}]},"mark":{"type":"rect","color":"#e6e6e6"},"encoding":{"x":{"field":"a","type":"quantitative","scale":{"domain":[1,18],"nice":false,"zero":false},"axis":{"values":[1,2,3,4,5,6,7,8,9,10,11,12,13,14,15,16,17,18],"labelExpr":"''+((datum.value-1)%6+1)","title":null}},"x2":{"field":"b"},"y":{"datum":0,"type":"quantitative","scale":{"domain":[0,1]},"axis":null},"y2":{"datum":1}}},
 {"data":{"name":"GFTT"},"encoding":{"x":{"field":"x","type":"quantitative","scale":{"domain":[1,18],"nice":false,"zero":false},"axis":{"values":[1,2,3,4,5,6,7,8,9,10,11,12,13,14,15,16,17,18],"labelExpr":"''+((datum.value-1)%6+1)","title":null}}},"layer":[
  {"mark":{"type":"line","color":"#6f95d5","strokeWidth":1.3},"encoding":{"y":{"field":"p","type":"quantitative","scale":{"type":"log","domain":[1,100000000],"nice":false},"axis":{"values":[1,100,10000,1000000,100000000],"labelExpr":"'1.00E+0'+round(log(datum.value)/LN10)","title":null}},"detail":{"field":"g"}}},
  {"mark":{"type":"point","shape":"M-1,-1L1,1M-1,1L1,-1","filled":false,"color":"#6f95d5","size":40,"strokeWidth":1.2,"opacity":1},"encoding":{"y":{"field":"p","type":"quantitative","scale":{"type":"log","domain":[1,100000000],"nice":false},"axis":{"values":[1,100,10000,1000000,100000000],"labelExpr":"'1.00E+0'+round(log(datum.value)/LN10)","title":null}}}},
  {"mark":{"type":"line","color":"#ed7d31","strokeWidth":1.3},"encoding":{"y":{"field":"s","type":"quantitative","scale":{"type":"log","domain":[1,100000000],"nice":false},"axis":{"values":[1,100,10000,1000000,100000000],"labelExpr":"'1.00E+0'+round(log(datum.value)/LN10)","title":null}},"detail":{"field":"g"}}},
  {"mark":{"type":"point","shape":"circle","filled":true,"color":"#ed7d31","size":45,"opacity":1},"encoding":{"y":{"field":"s","type":"quantitative","scale":{"type":"log","domain":[1,100000000],"nice":false},"axis":{"values":[1,100,10000,1000000,100000000],"labelExpr":"'1.00E+0'+round(log(datum.value)/LN10)","title":null}}}},
  {"data":{"values":[{"v":6.5},{"v":12.5}]},"mark":{"type":"rule","color":"#d9d9d9"},"encoding":{"x":{"field":"v","type":"quantitative","scale":{"domain":[1,18],"nice":false,"zero":false},"axis":{"values":[1,2,3,4,5,6,7,8,9,10,11,12,13,14,15,16,17,18],"labelExpr":"''+((datum.value-1)%6+1)","title":null}},"y":{"datum":1,"type":"quantitative","scale":{"type":"log","domain":[1,100000000],"nice":false},"axis":{"values":[1,100,10000,1000000,100000000],"labelExpr":"'1.00E+0'+round(log(datum.value)/LN10)","title":null}},"y2":{"datum":0.1}}}
 ]},
 {"data":{"name":"GFTT"},"encoding":{"x":{"field":"x","type":"quantitative","scale":{"domain":[1,18],"nice":false,"zero":false},"axis":{"values":[1,2,3,4,5,6,7,8,9,10,11,12,13,14,15,16,17,18],"labelExpr":"''+((datum.value-1)%6+1)","title":null}},"y":{"field":"d","type":"quantitative","scale":{"domain":[0,1],"nice":false,"zero":false},"axis":{"orient":"right","values":[0,0.2,0.4,0.6,0.8,1],"format":".2%","title":null}}},"layer":[
  {"mark":{"type":"line","color":"#000000","strokeWidth":1.2},"encoding":{"detail":{"field":"g"}}},
  {"mark":{"type":"point","shape":"triangle-up","filled":true,"color":"#000000","size":40,"opacity":1}}
 ]}
],"resolve":{"scale":{"y":"independent"}}},

{"width":280,"height":136,"title":"HARRIS","layer":[
 {"data":{"values":[{"a":6,"b":7},{"a":12,"b":13}]},"mark":{"type":"rect","color":"#e6e6e6"},"encoding":{"x":{"field":"a","type":"quantitative","scale":{"domain":[1,18],"nice":false,"zero":false},"axis":{"values":[1,2,3,4,5,6,7,8,9,10,11,12,13,14,15,16,17,18],"labelExpr":"''+((datum.value-1)%6+1)","title":null}},"x2":{"field":"b"},"y":{"datum":0,"type":"quantitative","scale":{"domain":[0,1]},"axis":null},"y2":{"datum":1}}},
 {"data":{"name":"HARRIS"},"encoding":{"x":{"field":"x","type":"quantitative","scale":{"domain":[1,18],"nice":false,"zero":false},"axis":{"values":[1,2,3,4,5,6,7,8,9,10,11,12,13,14,15,16,17,18],"labelExpr":"''+((datum.value-1)%6+1)","title":null}}},"layer":[
  {"mark":{"type":"line","color":"#6f95d5","strokeWidth":1.3},"encoding":{"y":{"field":"p","type":"quantitative","scale":{"type":"log","domain":[1,100000000],"nice":false},"axis":{"values":[1,100,10000,1000000,100000000],"labelExpr":"'1.00E+0'+round(log(datum.value)/LN10)","title":null}},"detail":{"field":"g"}}},
  {"mark":{"type":"point","shape":"M-1,-1L1,1M-1,1L1,-1","filled":false,"color":"#6f95d5","size":40,"strokeWidth":1.2,"opacity":1},"encoding":{"y":{"field":"p","type":"quantitative","scale":{"type":"log","domain":[1,100000000],"nice":false},"axis":{"values":[1,100,10000,1000000,100000000],"labelExpr":"'1.00E+0'+round(log(datum.value)/LN10)","title":null}}}},
  {"mark":{"type":"line","color":"#ed7d31","strokeWidth":1.3},"encoding":{"y":{"field":"s","type":"quantitative","scale":{"type":"log","domain":[1,100000000],"nice":false},"axis":{"values":[1,100,10000,1000000,100000000],"labelExpr":"'1.00E+0'+round(log(datum.value)/LN10)","title":null}},"detail":{"field":"g"}}},
  {"mark":{"type":"point","shape":"circle","filled":true,"color":"#ed7d31","size":45,"opacity":1},"encoding":{"y":{"field":"s","type":"quantitative","scale":{"type":"log","domain":[1,100000000],"nice":false},"axis":{"values":[1,100,10000,1000000,100000000],"labelExpr":"'1.00E+0'+round(log(datum.value)/LN10)","title":null}}}},
  {"data":{"values":[{"v":6.5},{"v":12.5}]},"mark":{"type":"rule","color":"#d9d9d9"},"encoding":{"x":{"field":"v","type":"quantitative","scale":{"domain":[1,18],"nice":false,"zero":false},"axis":{"values":[1,2,3,4,5,6,7,8,9,10,11,12,13,14,15,16,17,18],"labelExpr":"''+((datum.value-1)%6+1)","title":null}},"y":{"datum":1,"type":"quantitative","scale":{"type":"log","domain":[1,100000000],"nice":false},"axis":{"values":[1,100,10000,1000000,100000000],"labelExpr":"'1.00E+0'+round(log(datum.value)/LN10)","title":null}},"y2":{"datum":0.1}}}
 ]},
 {"data":{"name":"HARRIS"},"encoding":{"x":{"field":"x","type":"quantitative","scale":{"domain":[1,18],"nice":false,"zero":false},"axis":{"values":[1,2,3,4,5,6,7,8,9,10,11,12,13,14,15,16,17,18],"labelExpr":"''+((datum.value-1)%6+1)","title":null}},"y":{"field":"d","type":"quantitative","scale":{"domain":[0,0.8],"nice":false,"zero":false},"axis":{"orient":"right","values":[0,0.2,0.4,0.6,0.8],"format":".2%","title":null}}},"layer":[
  {"mark":{"type":"line","color":"#000000","strokeWidth":1.2},"encoding":{"detail":{"field":"g"}}},
  {"mark":{"type":"point","shape":"triangle-up","filled":true,"color":"#000000","size":40,"opacity":1}}
 ]}
],"resolve":{"scale":{"y":"independent"}}},

{"width":280,"height":136,"layer":[
 {"data":{"values":[{}]},"mark":{"type":"rect","opacity":0},"encoding":{"x":{"datum":-1.782,"type":"quantitative","scale":{"domain":[0,1],"nice":false,"zero":false},"axis":null},"x2":{"datum":2.789},"y":{"datum":5.15,"type":"quantitative","scale":{"domain":[0,1],"nice":false,"zero":false},"axis":null},"y2":{"datum":-0.444}}},
 {"data":{"values":[{"k":0.82},{"k":0.5625},{"k":0.298}]},"mark":{"type":"rule","strokeWidth":1.5},"encoding":{"x":{"datum":-0.1036,"type":"quantitative","scale":{"domain":[0,1],"nice":false,"zero":false},"axis":null},"x2":{"datum":0.0214},"y":{"field":"k","type":"quantitative","scale":{"domain":[0,1],"nice":false,"zero":false},"axis":null},"color":{"field":"k","type":"nominal","scale":{"domain":[0.82,0.5625,0.298],"range":["#6f95d5","#ed7d31","#000000"]},"legend":null}}},
 {"data":{"values":[{"k":0.82}]},"mark":{"type":"point","shape":"M-1,-1L1,1M-1,1L1,-1","filled":false,"color":"#6f95d5","size":60,"strokeWidth":1.3,"opacity":1},"encoding":{"x":{"datum":-0.0411,"type":"quantitative","scale":{"domain":[0,1],"nice":false,"zero":false},"axis":null},"y":{"field":"k","type":"quantitative","scale":{"domain":[0,1],"nice":false,"zero":false},"axis":null}}},
 {"data":{"values":[{"k":0.5625}]},"mark":{"type":"point","shape":"circle","filled":true,"color":"#ed7d31","size":55,"opacity":1},"encoding":{"x":{"datum":-0.0411,"type":"quantitative","scale":{"domain":[0,1],"nice":false,"zero":false},"axis":null},"y":{"field":"k","type":"quantitative","scale":{"domain":[0,1],"nice":false,"zero":false},"axis":null}}},
 {"data":{"values":[{"k":0.298}]},"mark":{"type":"point","shape":"triangle-up","filled":true,"color":"#000000","size":55,"opacity":1},"encoding":{"x":{"datum":-0.0411,"type":"quantitative","scale":{"domain":[0,1],"nice":false,"zero":false},"axis":null},"y":{"field":"k","type":"quantitative","scale":{"domain":[0,1],"nice":false,"zero":false},"axis":null}}},
 {"data":{"values":[{"k":0.82,"t":"Parallel execution - L3 cache misses"},{"k":0.5625,"t":"Sequential execution - L3 cache misses"},{"k":0.298,"t":"% difference"}]},"mark":{"type":"text","align":"left","baseline":"middle","fontSize":16.5,"color":"#262626"},"encoding":{"x":{"datum":0.0464,"type":"quantitative","scale":{"domain":[0,1],"nice":false,"zero":false},"axis":null},"y":{"field":"k","type":"quantitative","scale":{"domain":[0,1],"nice":false,"zero":false},"axis":null},"text":{"field":"t"}}},
 {"data":{"values":[{}]},"mark":{"type":"rule","color":"#000000","strokeWidth":1.5},"encoding":{"x":{"datum":-1.6464,"type":"quantitative","scale":{"domain":[0,1],"nice":false,"zero":false},"axis":null},"y":{"datum":5.092,"type":"quantitative","scale":{"domain":[0,1],"nice":false,"zero":false},"axis":null},"y2":{"datum":-0.0257}}},
 {"data":{"values":[{}]},"mark":{"type":"rule","color":"#000000","strokeWidth":1.5},"encoding":{"x":{"datum":2.657,"type":"quantitative","scale":{"domain":[0,1],"nice":false,"zero":false},"axis":null},"y":{"datum":4.915,"type":"quantitative","scale":{"domain":[0,1],"nice":false,"zero":false},"axis":null},"y2":{"datum":-0.143}}},
 {"data":{"values":[{}]},"mark":{"type":"rule","color":"#000000","strokeWidth":1.5},"encoding":{"x":{"datum":-1.557,"type":"quantitative","scale":{"domain":[0,1],"nice":false,"zero":false},"axis":null},"x2":{"datum":2.575},"y":{"datum":-0.217,"type":"quantitative","scale":{"domain":[0,1],"nice":false,"zero":false},"axis":null}}},
 {"data":{"values":[{}]},"mark":{"type":"point","shape":"triangle-up","filled":true,"color":"#000000","size":70,"opacity":1},"encoding":{"x":{"datum":-1.6464,"type":"quantitative","scale":{"domain":[0,1],"nice":false,"zero":false},"axis":null},"y":{"datum":5.07,"type":"quantitative","scale":{"domain":[0,1],"nice":false,"zero":false},"axis":null}}},
 {"data":{"values":[{}]},"mark":{"type":"point","shape":"triangle-down","filled":true,"color":"#000000","size":70,"opacity":1},"encoding":{"x":{"datum":-1.6464,"type":"quantitative","scale":{"domain":[0,1],"nice":false,"zero":false},"axis":null},"y":{"datum":-0.0037,"type":"quantitative","scale":{"domain":[0,1],"nice":false,"zero":false},"axis":null}}},
 {"data":{"values":[{}]},"mark":{"type":"point","shape":"triangle-up","filled":true,"color":"#000000","size":70,"opacity":1},"encoding":{"x":{"datum":2.657,"type":"quantitative","scale":{"domain":[0,1],"nice":false,"zero":false},"axis":null},"y":{"datum":4.871,"type":"quantitative","scale":{"domain":[0,1],"nice":false,"zero":false},"axis":null}}},
 {"data":{"values":[{}]},"mark":{"type":"point","shape":"triangle-down","filled":true,"color":"#000000","size":70,"opacity":1},"encoding":{"x":{"datum":2.657,"type":"quantitative","scale":{"domain":[0,1],"nice":false,"zero":false},"axis":null},"y":{"datum":-0.099,"type":"quantitative","scale":{"domain":[0,1],"nice":false,"zero":false},"axis":null}}},
 {"data":{"values":[{}]},"mark":{"type":"point","shape":"triangle-left","filled":true,"color":"#000000","size":70,"opacity":1},"encoding":{"x":{"datum":-1.539,"type":"quantitative","scale":{"domain":[0,1],"nice":false,"zero":false},"axis":null},"y":{"datum":-0.217,"type":"quantitative","scale":{"domain":[0,1],"nice":false,"zero":false},"axis":null}}},
 {"data":{"values":[{}]},"mark":{"type":"point","shape":"triangle-right","filled":true,"color":"#000000","size":70,"opacity":1},"encoding":{"x":{"datum":2.554,"type":"quantitative","scale":{"domain":[0,1],"nice":false,"zero":false},"axis":null},"y":{"datum":-0.217,"type":"quantitative","scale":{"domain":[0,1],"nice":false,"zero":false},"axis":null}}},
 {"data":{"values":[{"t":"Left y-axis - Total amount of cache misses (for all different subgraphs)"}]},"mark":{"type":"text","angle":270,"align":"center","baseline":"middle","fontSize":15.8,"color":"#000000"},"encoding":{"x":{"datum":-1.718,"type":"quantitative","scale":{"domain":[0,1],"nice":false,"zero":false},"axis":null},"y":{"datum":2.151,"type":"quantitative","scale":{"domain":[0,1],"nice":false,"zero":false},"axis":null},"text":{"field":"t"}}},
 {"data":{"values":[{"t":"Right y-axis - Difference in total amount of cache misses (%)"}]},"mark":{"type":"text","angle":270,"align":"center","baseline":"middle","fontSize":19,"color":"#000000"},"encoding":{"x":{"datum":2.725,"type":"quantitative","scale":{"domain":[0,1],"nice":false,"zero":false},"axis":null},"y":{"datum":2.063,"type":"quantitative","scale":{"domain":[0,1],"nice":false,"zero":false},"axis":null},"text":{"field":"t"}}},
 {"data":{"values":[{"t":"Test cases (for all different subgraphs)"}]},"mark":{"type":"text","align":"center","baseline":"middle","fontSize":17,"color":"#000000"},"encoding":{"x":{"datum":0.6107,"type":"quantitative","scale":{"domain":[0,1],"nice":false,"zero":false},"axis":null},"y":{"datum":-0.342,"type":"quantitative","scale":{"domain":[0,1],"nice":false,"zero":false},"axis":null},"text":{"field":"t"}}}
]}
]
}
